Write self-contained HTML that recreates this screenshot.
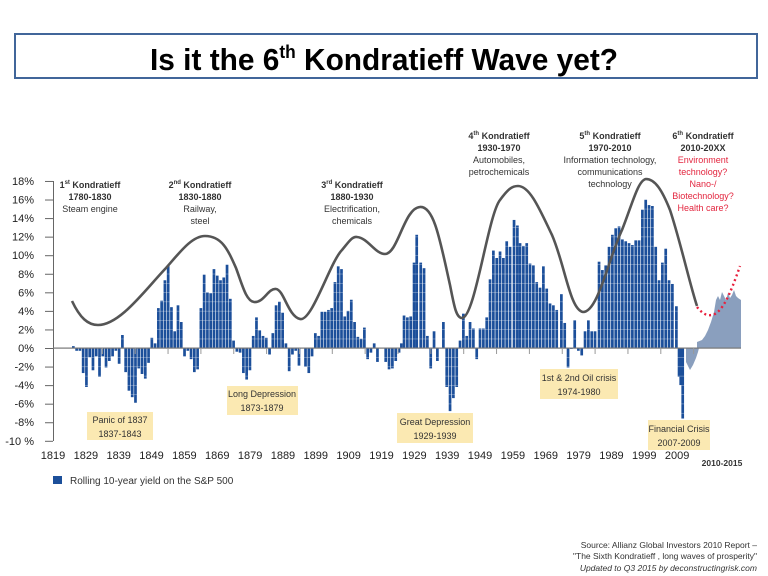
<!DOCTYPE html>
<html><head><meta charset="utf-8"><style>
html,body{margin:0;padding:0;background:#fff;}
body{width:768px;height:576px;overflow:hidden;position:relative;font-family:"Liberation Sans",sans-serif;}
</style></head><body>
<svg id="s" width="768" height="576" xmlns="http://www.w3.org/2000/svg" style="position:absolute;left:0;top:0">
<rect x="15" y="34" width="742" height="44" fill="#fff" stroke="#41669a" stroke-width="2"/>
<text x="150" y="70" textLength="468" lengthAdjust="spacingAndGlyphs" font-family="Liberation Sans" font-weight="bold" font-size="31" fill="#000">Is it the 6<tspan font-size="18" dy="-12">th</tspan><tspan dy="12"> Kondratieff Wave yet?</tspan></text>
<g id="bars"></g>
<g id="axis" font-family="Liberation Sans" font-size="11" fill="#222"></g>
<path id="curve" fill="none" stroke="#555" stroke-width="2.6" d="M72,301 C80,318 88,325 98,325 C120,325 145,290 166,268 C180,252 192,236 205,236 C222,236 228,250 236,268 C242,284 246,301 254,302 C264,303 268,288 276,289 C284,290 288,316 300,319 C312,322 330,262 342,250 C348,243 352,236 357,237 C368,238 375,254 385,254 C398,254 404,208 420,207 C434,206 440,240 450,285 C454,305 456,318 462,318 C475,318 488,215 500,200 C508,189 512,186 518,186 C530,186 540,210 552,235 C565,265 570,310 583,312 C598,312 608,260 622,230 C632,205 638,180 646,179 C655,179 662,190 670,210 C680,240 690,285 697,306"/>
<path fill="none" stroke="#e8203d" stroke-width="2.4" stroke-dasharray="2,3" d="M697,307 C702,313 706,316 712,315 C722,313 730,295 740,266"/>
<g font-family="Liberation Sans" font-size="9" fill="#333" text-anchor="middle">
<rect x="87" y="412" width="66" height="28" fill="#fbe9b2"/>
<text x="120" y="423">Panic of 1837</text><text x="120" y="437">1837-1843</text>
<rect x="227" y="386" width="71" height="29" fill="#fbe9b2"/>
<text x="262" y="397">Long Depression</text><text x="262" y="411">1873-1879</text>
<rect x="397" y="413" width="76" height="30" fill="#fbe9b2"/>
<text x="435" y="425">Great Depression</text><text x="435" y="439">1929-1939</text>
<rect x="540" y="369" width="78" height="30" fill="#fbe9b2"/>
<text x="579" y="381">1st &amp; 2nd Oil crisis</text><text x="579" y="395">1974-1980</text>
<rect x="648" y="420" width="62" height="30" fill="#fbe9b2"/>
<text x="679" y="432">Financial Crisis</text><text x="679" y="446">2007-2009</text>
<g font-size="9">
<text x="90" y="188" font-weight="bold">1<tspan font-size="6" dy="-4">st</tspan><tspan dy="4"> Kondratieff</tspan></text>
<text x="90" y="200" font-weight="bold">1780-1830</text><text x="90" y="212">Steam engine</text>
<text x="200" y="188" font-weight="bold">2<tspan font-size="6" dy="-4">nd</tspan><tspan dy="4"> Kondratieff</tspan></text>
<text x="200" y="200" font-weight="bold">1830-1880</text><text x="200" y="212">Railway,</text><text x="200" y="224">steel</text>
<text x="352" y="188" font-weight="bold">3<tspan font-size="6" dy="-4">rd</tspan><tspan dy="4"> Kondratieff</tspan></text>
<text x="352" y="200" font-weight="bold">1880-1930</text><text x="352" y="212">Electrification,</text><text x="352" y="224">chemicals</text>
<text x="499" y="139" font-weight="bold">4<tspan font-size="6" dy="-4">th</tspan><tspan dy="4"> Kondratieff</tspan></text>
<text x="499" y="151" font-weight="bold">1930-1970</text><text x="499" y="163">Automobiles,</text><text x="499" y="175">petrochemicals</text>
<text x="610" y="139" font-weight="bold">5<tspan font-size="6" dy="-4">th</tspan><tspan dy="4"> Kondratieff</tspan></text>
<text x="610" y="151" font-weight="bold">1970-2010</text><text x="610" y="163">Information technology,</text><text x="610" y="175">communications</text><text x="610" y="187">technology</text>
<text x="703" y="139" font-weight="bold">6<tspan font-size="6" dy="-4">th</tspan><tspan dy="4"> Kondratieff</tspan></text>
<text x="703" y="151" font-weight="bold">2010-20XX</text>
<g fill="#e3263f"><text x="703" y="163">Environment</text><text x="703" y="175">technology?</text><text x="703" y="187">Nano-/</text><text x="703" y="199">Biotechnology?</text><text x="703" y="211">Health care?</text></g>
</g>
</g>
<text x="722" y="466" text-anchor="middle" font-family="Liberation Sans" font-weight="bold" font-size="8.5" fill="#333">2010-2015</text>
<rect x="53" y="476" width="9" height="8" fill="#1c4f9a"/>
<text x="70" y="484" font-family="Liberation Sans" font-size="10" fill="#333">Rolling 10-year yield on the S&amp;P 500</text>
<g font-family="Liberation Sans" font-size="8.5" fill="#333" text-anchor="end">
<text x="757" y="548">Source: Allianz  Global Investors 2010 Report –</text>
<text x="757" y="559">"The Sixth Kondratieff , long waves of prosperity"</text>
<text x="757" y="571" font-style="italic">Updated to  Q3 2015 by deconstructingrisk.com</text>
</g>
</svg>
<script>
var NS="http://www.w3.org/2000/svg";
function Y(v){return 348-v*9.28;}
var bars=document.getElementById('bars'),ax=document.getElementById('axis');
function r(x,y,w,h,f,p){var e=document.createElementNS(NS,'rect');e.setAttribute('x',x);e.setAttribute('y',y);e.setAttribute('width',w);e.setAttribute('height',h);e.setAttribute('fill',f);(p||bars).appendChild(e);}
function t(x,y,s,a){var e=document.createElementNS(NS,'text');e.setAttribute('x',x);e.setAttribute('y',y);e.setAttribute('text-anchor',a);e.textContent=s;ax.appendChild(e);}
var early=[0.2,-0.3,-0.3,-2.7,-4.2,-1,-2.4,-0.9,-3.1,-0.9,-2.1,-1.4,-0.9,-0.3,-1.7,1.4,-2.6,-4.6,-5.3,-5.9,-2.2,-2.8,-3.3,-1.6,1.1,0.5,4.3,5.1,7.3,8.9,4.4,1.8,4.6,2.8,-0.9,-0.3,-1.2,-2.6,-2.3,4.3,7.9,6.0,5.9,8.5,7.8,7.3,7.6,9.0,5.3,0.8,-0.4,-0.5,-2.7,-3.4,-2.4,1.3,3.3,1.9,1.3,1.1,-0.7,1.6,4.6,5.0,3.8,0.5,-2.5,-0.7,-0.3,-1.9,0,-2.0,-2.7,-0.9,1.6,1.3,3.9,3.9,4.1,4.3,7.1,8.8,8.5,3.4,4.0,5.2,2.8,1.2,1.0,2.2,-1.2,-0.5,0.5,-1.5];
var blue="#1c4f9a";
for(var i=0;i<early.length;i++){var x=72+i*3.27,v=early[i];if(v==0)continue;r(x,v>0?Y(v):348,2.7,Math.abs(v)*9.28,blue);}
var late=[[5,-1.5],[15,-2.3],[25,-2.2],[35,-1.4],[45,-0.5],[52,0.5],[60,3.5],[70,3.3],[80,3.4],[90,9.2],[98,12.2],[110,9.2],[120,8.6],[130,1.3],[140,-2.2],[150,1.8],[160,-1.4],[178,2.8],[188,-4.2],[198,-6.8],[208,-5.4],[218,-4.2],[228,0.8],[238,3.7],[248,1.3],[258,2.8],[268,2.1],[278,-1.2],[288,2.1],[298,2.1],[308,3.3],[318,7.4],[328,10.5],[338,9.7],[348,10.4],[358,9.7],[368,11.5],[378,10.9],[390,13.8],[400,13.2],[408,11.3],[418,11.0],[428,11.3],[438,9.1],[448,8.9],[458,7.1],[468,6.5],[478,8.8],[488,6.4],[498,4.8],[508,4.6],[518,4.1],[532,5.8],[542,2.7],[552,-2.1],[562,-0.1],[572,3.0],[583,-0.3],[593,-0.8],[603,1.8],[613,3.0],[623,1.8],[633,1.8],[645,9.3],[655,8.4],[665,8.9],[675,10.9],[685,12.2],[695,12.9],[705,13.1],[715,11.7],[725,11.5],[735,11.3],[745,11.1],[755,11.6],[765,11.6],[775,14.9],[785,16.0],[795,15.4],[805,15.3],[815,10.9],[825,7.3],[835,9.2],[845,10.7],[855,7.3],[865,6.9],[877,4.5],[885,-3.1],[890,-4.0],[896,-7.6]];
for(var j=0;j<late.length;j++){var x=384+late[j][0]/3-1.3,v=late[j][1];r(x,v>0?Y(v):348,2.7,Math.abs(v)*9.28,blue);}
for(var g=-8;g<=16;g+=1){if(g==0)continue;r(60,Y(g),625,0.5,"rgba(255,255,255,0.55)");}
var p=document.createElementNS(NS,'path');
p.setAttribute('d','M686,348 L686,362 L690,370 L693,365 L696,358 L698,352 L699,348 Z M697,348 L697,342 L702,340 L705,336 L708,330 L711,322 L714,312 L716,300 L718,296 L720,300 L722,292 L724,296 L726,300 L728,293 L730,298 L732,295 L734,290 L736,296 L738,298 L741,300 L741,348 Z');
p.setAttribute('fill','#8a9fbe');bars.appendChild(p);
r(53,181,1,260,"#666",ax);
r(53,347.5,688,1.2,"#777",ax);
var labs=["18%","16%","14%","12%","10%","8%","6%","4%","2%","0%","-2%","-4%","-6%","-8%","-10 %"];
for(var k=0;k<labs.length;k++){var v=18-2*k;var y=Y(v);r(45,y,8,1,"#666",ax);t(34,y+4,labs[k],"end");}
for(var m=0;m<20;m++){var yr=1819+m*10;var x=53+m*32.85;if(m>0)r(x+16,348,1,6,"#999",ax);t(x,459,String(yr),"middle");}
</script>
</body></html>
